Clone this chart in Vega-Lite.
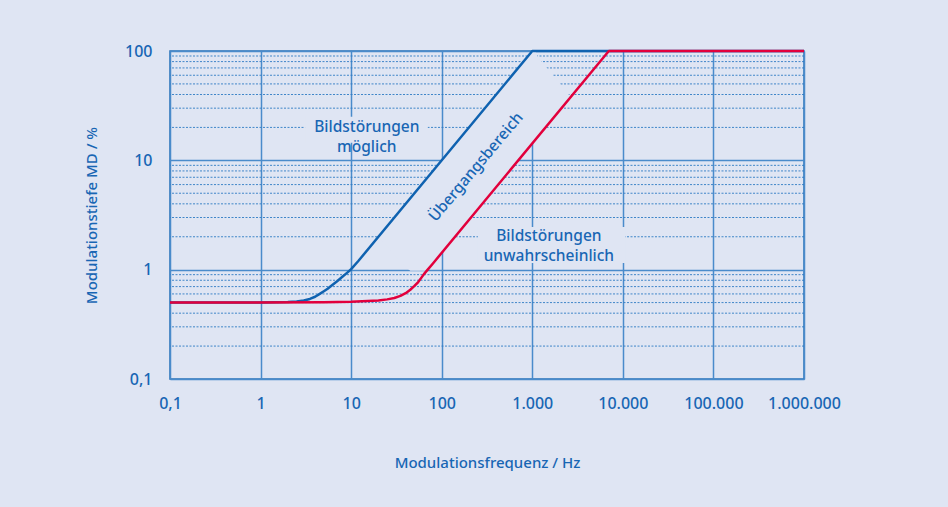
{
  "$schema": "https://vega.github.io/schema/vega-lite/v6.json",
  "width": 634,
  "height": 328,
  "autosize": {"type": "none"},
  "padding": {"left": 170, "top": 51, "right": 144, "bottom": 128},
  "background": "#dfe5f3",
  "config": {
    "view": {"stroke": "#2a72b8", "strokeWidth": 1.5, "fill": "#dfe5f3"},
    "font": "Noto Sans",
    "axis": {"labelFont": "Noto Sans", "titleFont": "Noto Sans"}
  },
  "datasets": {
    "curves": [
      {"series": "möglich", "f": 0.1, "md": 0.5},
      {"series": "möglich", "f": 1, "md": 0.5},
      {"series": "möglich", "f": 2, "md": 0.505},
      {"series": "möglich", "f": 2.5, "md": 0.512},
      {"series": "möglich", "f": 3, "md": 0.522},
      {"series": "möglich", "f": 3.5, "md": 0.54},
      {"series": "möglich", "f": 4, "md": 0.565},
      {"series": "möglich", "f": 4.5, "md": 0.6},
      {"series": "möglich", "f": 5, "md": 0.635},
      {"series": "möglich", "f": 5.5, "md": 0.67},
      {"series": "möglich", "f": 6, "md": 0.71},
      {"series": "möglich", "f": 7, "md": 0.785},
      {"series": "möglich", "f": 8, "md": 0.86},
      {"series": "möglich", "f": 9, "md": 0.935},
      {"series": "möglich", "f": 10, "md": 1.01},
      {"series": "möglich", "f": 12, "md": 1.2},
      {"series": "möglich", "f": 1000, "md": 100},
      {"series": "möglich", "f": 1000000, "md": 100},
      {"series": "unwahrscheinlich", "f": 0.1, "md": 0.5},
      {"series": "unwahrscheinlich", "f": 5, "md": 0.503},
      {"series": "unwahrscheinlich", "f": 10, "md": 0.508},
      {"series": "unwahrscheinlich", "f": 20, "md": 0.522},
      {"series": "unwahrscheinlich", "f": 25, "md": 0.535},
      {"series": "unwahrscheinlich", "f": 30, "md": 0.55},
      {"series": "unwahrscheinlich", "f": 35, "md": 0.575},
      {"series": "unwahrscheinlich", "f": 40, "md": 0.61},
      {"series": "unwahrscheinlich", "f": 45, "md": 0.655},
      {"series": "unwahrscheinlich", "f": 50, "md": 0.71},
      {"series": "unwahrscheinlich", "f": 55, "md": 0.77},
      {"series": "unwahrscheinlich", "f": 60, "md": 0.85},
      {"series": "unwahrscheinlich", "f": 65, "md": 0.93},
      {"series": "unwahrscheinlich", "f": 70, "md": 1.0},
      {"series": "unwahrscheinlich", "f": 80, "md": 1.14},
      {"series": "unwahrscheinlich", "f": 7000, "md": 100},
      {"series": "unwahrscheinlich", "f": 1000000, "md": 100}
    ],
    "minor": [
      {"g": 0.2}, {"g": 0.3}, {"g": 0.4}, {"g": 0.5}, {"g": 0.6}, {"g": 0.7}, {"g": 0.8}, {"g": 0.9},
      {"g": 2}, {"g": 3}, {"g": 4}, {"g": 5}, {"g": 6}, {"g": 7}, {"g": 8}, {"g": 9},
      {"g": 20}, {"g": 30}, {"g": 40}, {"g": 50}, {"g": 60}, {"g": 70}, {"g": 80}, {"g": 90}
    ],
    "band": [
      {"md": 0.98, "fl": 45, "fr": 68},
      {"md": 1.05, "fl": 40, "fr": 73},
      {"md": 2, "fl": 20, "fr": 140},
      {"md": 38, "fl": 380, "fr": 2660},
      {"md": 88, "fl": 880, "fr": 1150},
      {"md": 100, "fl": 1000, "fr": 1080}
    ],
    "boxes": [
      {"f1": 3.1, "f2": 70, "m1": 14.5, "m2": 25},
      {"f1": 251, "f2": 10600, "m1": 1.15, "m2": 2.45}
    ],
    "labels": [
      {"f": 14.9, "md": 20.2, "t": "Bildstörungen\nmöglich", "a": 0},
      {"f": 1524, "md": 2.03, "t": "Bildstörungen\nunwahrscheinlich", "a": 0},
      {"f": 238, "md": 8.7, "t": "Übergangsbereich", "a": -50}
    ]
  },
  "layer": [
    {
      "data": {"name": "minor"},
      "mark": {"type": "rule", "stroke": "#2f7bc4", "strokeWidth": 1, "strokeDash": [2, 1.5], "opacity": 0.9},
      "encoding": {
        "y": {"field": "g", "type": "quantitative", "scale": {"type": "log", "domain": [0.1, 100], "nice": false},
          "axis": {"values": [0.1, 1, 10, 100], "grid": true, "gridColor": "#4a8bcb", "gridWidth": 1.5, "domain": false, "ticks": false,
            "labelExpr": "datum.value < 1 ? '0,1' : replace(format(datum.value, ','), regexp(',', 'g'), '.')",
            "labelFontSize": 16, "labelColor": "#1866b4", "labelPadding": 18, "labelFontWeight": 500,
            "labelFlush": false, "labelOverlap": false, "labelBound": false,
            "title": "Modulationstiefe MD / %", "titleFontSize": 15, "titleFontWeight": 500, "titleColor": "#1866b4", "titlePadding": 25}}
      }
    },
    {
      "data": {"name": "band"},
      "mark": {"type": "area", "orient": "horizontal", "fill": "#dfe5f3", "opacity": 1},
      "encoding": {
        "y": {"field": "md", "type": "quantitative", "sort": null},
        "x": {"field": "fl", "type": "quantitative", "scale": {"type": "log", "domain": [0.1, 1000000], "nice": false},
          "axis": {"values": [0.1, 1, 10, 100, 1000, 10000, 100000, 1000000], "grid": true, "gridColor": "#4a8bcb", "gridWidth": 1.5, "domain": false, "ticks": false,
            "labelExpr": "datum.value < 1 ? '0,1' : replace(format(datum.value, ','), regexp(',', 'g'), '.')",
            "labelFontSize": 16, "labelColor": "#1866b4", "labelPadding": 16, "labelFontWeight": 500,
            "labelFlush": false, "labelOverlap": false, "labelBound": false,
            "title": "Modulationsfrequenz / Hz", "titleFontSize": 15, "titleFontWeight": 500, "titleColor": "#1866b4", "titlePadding": 44}},
        "x2": {"field": "fr"}
      }
    },
    {
      "data": {"name": "boxes"},
      "mark": {"type": "rect", "fill": "#dfe5f3"},
      "encoding": {
        "x": {"field": "f1", "type": "quantitative"},
        "x2": {"field": "f2"},
        "y": {"field": "m1", "type": "quantitative"},
        "y2": {"field": "m2"}
      }
    },
    {
      "data": {"name": "curves"},
      "mark": {"type": "line", "strokeWidth": 2.5, "strokeJoin": "round"},
      "encoding": {
        "x": {"field": "f", "type": "quantitative"},
        "y": {"field": "md", "type": "quantitative"},
        "color": {"field": "series", "type": "nominal", "scale": {"domain": ["möglich", "unwahrscheinlich"], "range": ["#0f62b0", "#e2003c"]}, "legend": null}
      }
    },
    {
      "data": {"name": "labels"},
      "mark": {"type": "text", "fontSize": 15.5, "fontWeight": 500, "color": "#1866b4", "lineBreak": "\n", "lineHeight": 20, "align": "center", "baseline": "middle"},
      "encoding": {
        "x": {"field": "f", "type": "quantitative"},
        "y": {"field": "md", "type": "quantitative"},
        "text": {"field": "t"},
        "angle": {"field": "a", "type": "quantitative", "scale": null}
      }
    }
  ]
}
